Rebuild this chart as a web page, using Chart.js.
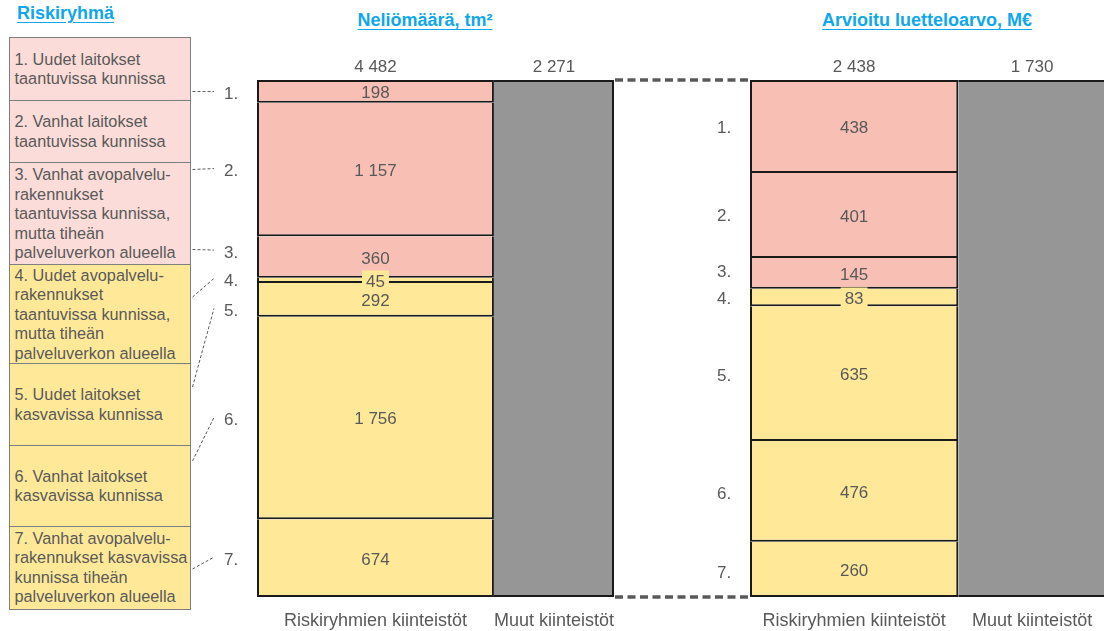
<!DOCTYPE html>
<html><head><meta charset="utf-8">
<script src="https://cdn.jsdelivr.net/npm/chart.js@4"></script>
<style>
html,body{margin:0;padding:0;width:1104px;height:631px;overflow:hidden;background:#fff;font-family:"Liberation Sans",Arial,sans-serif;}
.title{position:absolute;font-weight:bold;font-size:18px;line-height:18px;color:#10A7EC;text-decoration:underline;text-underline-offset:3px;white-space:nowrap;}
.box{position:absolute;left:9px;width:182px;box-sizing:border-box;border:1.5px solid #7f7f7f;display:flex;align-items:center;padding-left:4.5px;font-size:16.3px;line-height:19.5px;color:#595959;white-space:nowrap;}
canvas{position:absolute;left:0;top:0;}
</style></head>
<body>
<div class="title" style="left:17px;top:4px;">Riskiryhmä</div>
<div class="title" style="left:275px;width:300px;text-align:center;top:11px;">Neliömäärä, tm²</div>
<div class="title" style="left:777px;width:300px;text-align:center;top:11px;">Arvioitu luetteloarvo, M€</div>
<div id="boxes"></div>
<canvas id="c1" width="1200" height="631"></canvas>
<canvas id="c2" width="1200" height="631"></canvas>
<script>
// ---- data ----
const groupNumbers = ['1.', '2.', '3.', '4.', '5.', '6.', '7.'];
const groupNames = [
  '1. Uudet laitokset\ntaantuvissa kunnissa',
  '2. Vanhat laitokset\ntaantuvissa kunnissa',
  '3. Vanhat avopalvelu-\nrakennukset\ntaantuvissa kunnissa,\nmutta tiheän\npalveluverkon alueella',
  '4. Uudet avopalvelu-\nrakennukset\ntaantuvissa kunnissa,\nmutta tiheän\npalveluverkon alueella',
  '5. Uudet laitokset\nkasvavissa kunnissa',
  '6. Vanhat laitokset\nkasvavissa kunnissa',
  '7. Vanhat avopalvelu-\nrakennukset kasvavissa\nkunnissa tiheän\npalveluverkon alueella'
];
const categories = ['Riskiryhmien kiinteistöt', 'Muut kiinteistöt'];
const areaRisk = [198, 1157, 360, 45, 292, 1756, 674];   // tm²
const areaOther = 2271;
const valueRisk = [438, 401, 145, 83, 635, 476, 260];     // M€
const valueOther = 1730;

// ---- styles / layout ----
const PINK = '#F8BFB5', YELLOW = '#FFE999', GRAY = '#969696', EDGE = '#1a1a1a', TXT = '#595959';
const BOX_PINK = '#FBDCD8', BOX_YELLOW = '#FFE999';
const boxEdges = [37, 100, 162, 264, 363, 445, 526, 608];
const FONT = '"Liberation Sans", Arial, sans-serif';

const boxesDiv = document.getElementById('boxes');
groupNames.forEach((t, i) => {
  const d = document.createElement('div');
  d.className = 'box';
  d.style.top = boxEdges[i] + 'px';
  d.style.height = (boxEdges[i + 1] - boxEdges[i] + 1.5) + 'px';
  d.style.background = i < 3 ? BOX_PINK : BOX_YELLOW;
  const s = document.createElement('span');
  s.innerText = t;
  d.appendChild(s);
  boxesDiv.appendChild(d);
});

const fmt = n => String(n).replace(/\B(?=(\d{3})+(?!\d))/g, ' ');

function makePanel(id, risk, other, left, width, opt) {
  const totRisk = risk.reduce((a, b) => a + b, 0);
  const tot = totRisk + other;
  const w1 = width * totRisk / tot, w2 = width * other / tot;
  const areaLeft = left + (w1 - w2) / 4;
  const canvasW = 1200;
  const n = risk.length;
  const datasets = risk.map((v, i) => ({
    label: groupNumbers[i],
    data: [v / totRisk * 100, null],
    backgroundColor: i < 3 ? PINK : YELLOW,
    borderColor: EDGE,
    borderWidth: {left: 2, right: 2, top: i === 0 ? 2 : 0, bottom: 2},
    borderSkipped: false,
    inflateAmount: 0,
    barPercentage: 2 * totRisk / tot,
    categoryPercentage: 1,
    clip: false
  }));
  datasets.push({
    label: 'Muut',
    data: [null, 100],
    backgroundColor: GRAY,
    borderColor: EDGE,
    borderWidth: {left: 0, right: 2, top: 2, bottom: 2},
    borderSkipped: false,
    inflateAmount: 0,
    barPercentage: 2 * other / tot,
    categoryPercentage: 1,
    clip: false
  });

  const labelPlugin = {
    id: 'labels' + id,
    afterDatasetsDraw(chart) {
      const ctx = chart.ctx;
      ctx.save();
      ctx.textBaseline = 'alphabetic';
      risk.forEach((v, i) => {
        const el = chart.getDatasetMeta(i).data[0];
        const cy = (el.y + el.base) / 2;
        const h = Math.abs(el.base - el.y);
        const txt = fmt(v);
        ctx.font = '17px ' + FONT;
        ctx.textAlign = 'center';
        if (h < 20) {
          const tw = ctx.measureText(txt).width;
          ctx.fillStyle = i < 3 ? PINK : YELLOW;
          ctx.fillRect(el.x - tw / 2 - 4, cy - 10, tw + 8, 20);
        }
        ctx.fillStyle = TXT;
        ctx.fillText(txt, el.x, cy + 6.5);
        ctx.textAlign = 'left';
        const ly = cy + opt.numOffsets[i];
        ctx.fillText(groupNumbers[i], opt.numX, ly + 6);
        if (opt.connectors) {
          const c = opt.connectors[i];
          ctx.save();
          ctx.strokeStyle = TXT; ctx.lineWidth = 1; ctx.setLineDash([3, 2]);
          ctx.beginPath();
          ctx.moveTo(192.5, c);
          ctx.lineTo(214, ly - 1.5);
          ctx.stroke();
          ctx.restore();
        }
      });
      const riskEl = chart.getDatasetMeta(0).data[0];
      const otherEl = chart.getDatasetMeta(n).data[1];
      const yTop = chart.scales.y.getPixelForValue(0);
      const yBot = chart.scales.y.getPixelForValue(100);
      ctx.textAlign = 'center';
      ctx.fillStyle = TXT;
      ctx.font = '17px ' + FONT;
      ctx.fillText(fmt(totRisk), riskEl.x, yTop - 8);
      ctx.fillText(fmt(other), otherEl.x, yTop - 8);
      ctx.font = '18px ' + FONT;
      ctx.fillText(categories[0], chart.scales.x.getPixelForValue(0), yBot + 29);
      ctx.fillText(categories[1], chart.scales.x.getPixelForValue(1), yBot + 29);
      if (opt.bridgeFrom) {
        const xr = riskEl.x - riskEl.width / 2;
        ctx.strokeStyle = TXT; ctx.lineWidth = 3.5; ctx.setLineDash([8, 4.5]);
        ctx.beginPath();
        ctx.moveTo(opt.bridgeFrom, yTop); ctx.lineTo(xr, yTop);
        ctx.moveTo(opt.bridgeFrom, yBot); ctx.lineTo(xr, yBot);
        ctx.stroke();
      }
      ctx.restore();
    }
  };

  return new Chart(document.getElementById(id), {
    type: 'bar',
    data: {labels: categories, datasets},
    options: {
      responsive: false,
      animation: false,
      events: [],
      layout: {padding: {left: areaLeft, right: canvasW - areaLeft - width, top: 80, bottom: 34}},
      plugins: {legend: {display: false}, tooltip: {enabled: false}},
      scales: {
        x: {display: false, stacked: true, offset: true},
        y: {display: false, stacked: true, reverse: true, min: 0, max: 100}
      }
    },
    plugins: [labelPlugin]
  });
}

const LEFT_X = 257, LEFT_W = 357, RIGHT_X = 750, RIGHT_W = 356;
makePanel('c1', areaRisk, areaOther, LEFT_X, LEFT_W, {
  numX: 224,
  numOffsets: [1.5, 0.5, -5.5, -0.5, 10, 1, 0.5],
  connectors: [91.5, 169.5, 249.5, 297, 387, 461, 569]
});
makePanel('c2', valueRisk, valueOther, RIGHT_X, RIGHT_W, {
  numX: 717,
  numOffsets: [0.5, 0, -2, 0.5, 1.5, 1.5, 2.5],
  bridgeFrom: LEFT_X + LEFT_W + 1
});
</script>
</body></html>
